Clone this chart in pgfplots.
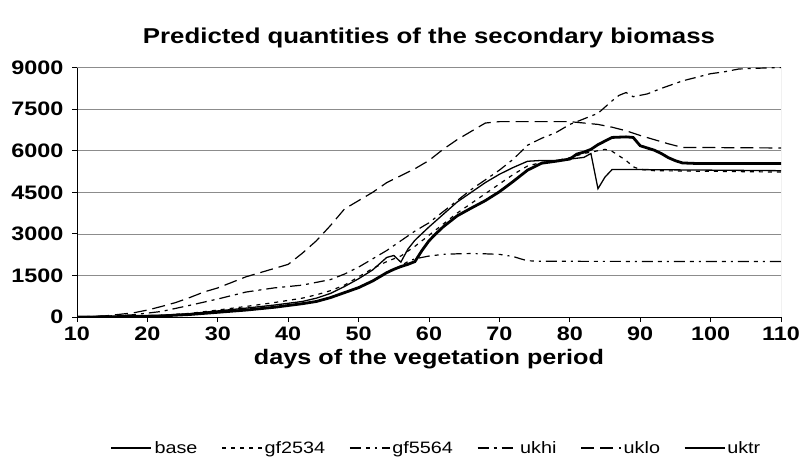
\documentclass[border=0pt]{standalone}
\usepackage{fontspec}
\setmainfont[FakeStretch=1.2]{Liberation Sans}
\usepackage{pgfplots}
\usepackage{pgfplotstable}
\pgfplotsset{compat=1.18}

\pgfplotstableread{
d v
10 0
14 5
18 20
22 40
26 90
30 170
34 250
38 350
42 480
44 560
46 700
48 880
50 1060
52 1300
54 1600
55 1720
56 1820
57 1900
58 2000
59 2400
60 2750
61 3010
62 3250
64 3650
66 3930
68 4200
70 4520
72 4900
74 5300
76 5550
78 5620
80 5700
81 5880
82 5950
83 6050
84 6220
86 6480
88 6500
89 6480
90 6180
92 6020
93 5900
94 5750
95 5640
96 5560
98 5540
110 5540
}\base

\pgfplotstableread{
d v
10 0
14 10
18 30
22 60
26 130
30 250
34 380
38 520
42 680
44 800
46 950
48 1150
50 1450
52 1750
54 2000
56 2200
58 2550
60 2950
62 3350
64 3750
66 4100
68 4450
70 4800
72 5150
74 5450
76 5580
78 5640
80 5750
82 5900
84 6000
85 6050
86 5980
88 5650
89 5420
90 5330
92 5280
110 5230
}\gfa

\pgfplotstableread{
d v
10 0
14 5
18 20
22 40
26 90
30 170
34 250
38 350
42 480
44 560
46 700
48 880
50 1060
52 1300
54 1600
55 1720
56 1850
57 2000
58 2100
60 2200
62 2260
64 2280
66 2290
68 2280
70 2260
72 2180
73 2100
74 2030
76 2010
110 2000
}\gfb

\pgfplotstableread{
d v
10 0
14 30
18 80
22 200
26 420
30 650
34 900
38 1050
42 1150
46 1350
48 1550
50 1800
52 2100
54 2400
56 2750
58 3100
60 3400
62 3800
64 4200
66 4600
68 4950
70 5300
72 5700
74 6200
76 6450
78 6650
80 6950
82 7150
84 7350
86 7800
87 8000
88 8100
89 7950
91 8050
93 8250
96 8520
100 8780
102 8850
104 8950
107 8980
110 9000
}\ukhi

\pgfplotstableread{
d v
10 0
14 40
18 150
20 250
22 380
24 520
26 700
28 900
30 1050
32 1250
34 1450
36 1600
38 1750
40 1900
42 2300
44 2750
46 3300
48 3900
50 4200
52 4500
54 4850
56 5100
58 5350
60 5650
62 6050
64 6400
66 6700
68 7000
70 7050
80 7050
82 7000
84 6950
86 6850
88 6720
90 6550
92 6400
94 6250
96 6120
110 6100
}\uklo

\pgfplotstableread{
d v
10 0
14 10
18 30
22 60
26 120
30 220
34 320
38 430
42 560
44 680
46 850
48 1100
50 1380
52 1700
54 2150
55 2220
56 1980
57 2450
58 2770
60 3250
62 3700
64 4150
66 4500
68 4850
70 5150
72 5400
74 5620
76 5650
78 5650
80 5700
82 5760
83 5900
84 4630
85 5050
86 5320
90 5320
100 5300
110 5280
}\uktr

\begin{document}
\begin{tikzpicture}[x=1pt,y=1pt]
\path[use as bounding box] (0,0) rectangle (801,456);
\begin{axis}[
  at={(77pt,139pt)}, anchor=south west,
  scale only axis, width=704pt, height=249.4pt,
  xmin=10, xmax=110, ymin=0, ymax=9000,
  xtick={10,20,...,110}, ytick={0,1500,...,9000},
  axis x line*=bottom, axis y line*=left,
  ymajorgrids, grid style={black!45, line width=0.7pt},
  tick align=outside, major tick length=5pt,
  tick style={black, line width=0.8pt},
  axis line style={black, line width=0.8pt},
  ticklabel style={font=\bfseries\fontsize{19.5}{19.5}\selectfont},
  xticklabel style={yshift=-1pt},
  yticklabel style={xshift=-5pt},
  /pgf/number format/assume math mode=true,
  /pgf/number format/1000 sep={},
  xlabel={days of the vegetation period},
  xlabel style={font=\bfseries\fontsize{21}{21}\selectfont,
    at={(axis description cs:0.5,0)}, anchor=center, yshift=-42pt},
  title={Predicted quantities of the secondary biomass},
  title style={font=\bfseries\fontsize{21.5}{21.5}\selectfont,
    at={(axis description cs:0.5,1)}, anchor=center, yshift=24pt},
  legend columns=6,
  legend style={at={(0.51,0)}, anchor=center, yshift=-131pt, draw=none,
    font=\fontsize{16.5}{16.5}\selectfont, inner sep=0pt,
    /tikz/every even column/.append style={column sep=22pt}},
  legend image code/.code={\draw[#1] (0pt,0pt) -- (40pt,0pt);},
  every axis plot/.append style={black, line width=1.2pt},
]
\addplot[line width=2.8pt] table[x=d,y=v] {\base};
\addlegendentry{base}
\addplot[dash pattern=on 4pt off 5pt] table[x=d,y=v] {\gfa};
\addlegendentry{gf2534}
\addplot[dash pattern=on 11pt off 5pt on 4pt off 5pt on 2pt off 5pt] table[x=d,y=v] {\gfb};
\addlegendentry{gf5564}
\addplot[dash pattern=on 11pt off 5pt on 3pt off 5pt] table[x=d,y=v] {\ukhi};
\addlegendentry{ukhi}
\addplot[dash pattern=on 13pt off 6pt] table[x=d,y=v] {\uklo};
\addlegendentry{uklo}
\addplot[line width=1.3pt] table[x=d,y=v] {\uktr};
\addlegendentry{uktr}
\draw[black!45, line width=0.7pt] (rel axis cs:1,0) -- (rel axis cs:1,1);
\end{axis}
\end{tikzpicture}
\end{document}
